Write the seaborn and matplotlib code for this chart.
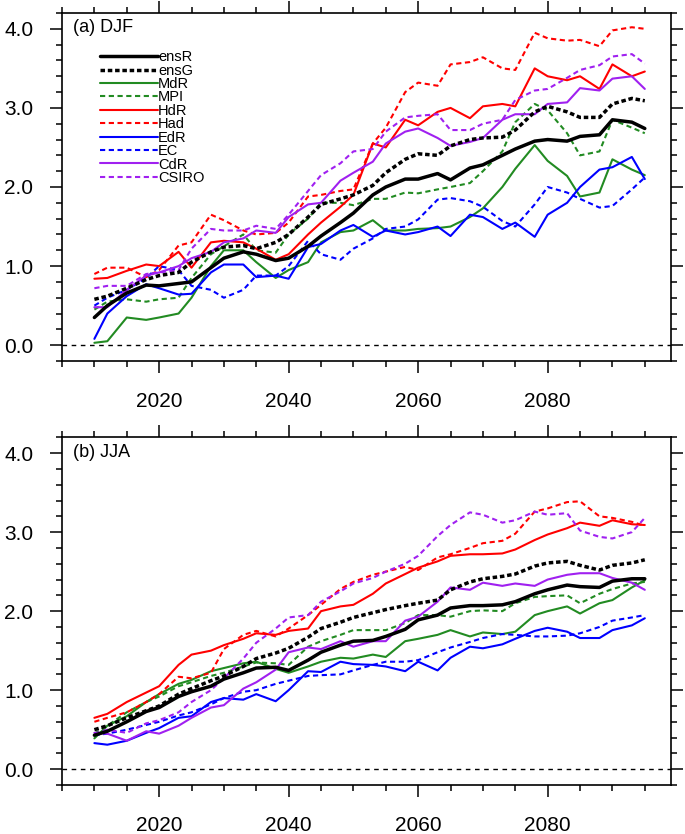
import pandas as pd
import seaborn as sns
import matplotlib.pyplot as plt
from matplotlib.ticker import MultipleLocator, FormatStrFormatter

years = [2010, 2012, 2015, 2018, 2020, 2023, 2025, 2028, 2030, 2033, 2035, 2038,
         2040, 2043, 2045, 2048, 2050, 2053, 2055, 2058, 2060, 2063, 2065, 2068,
         2070, 2073, 2075, 2078, 2080, 2083, 2085, 2088, 2090, 2093, 2095]
models = ["ensR", "ensG", "MdR", "MPI", "HdR", "Had", "EdR", "EC", "CdR", "CSIRO"]

# (a) DJF
djf_ensR = [0.35, 0.50, 0.66, 0.76, 0.75, 0.78, 0.80, 0.98, 1.10, 1.18, 1.15, 1.07,
            1.10, 1.25, 1.38, 1.55, 1.67, 1.90, 2.00, 2.10, 2.10, 2.17, 2.09, 2.24,
            2.28, 2.40, 2.48, 2.58, 2.60, 2.58, 2.64, 2.66, 2.85, 2.82, 2.74]
djf_ensG = [0.58, 0.62, 0.72, 0.83, 0.88, 0.92, 1.05, 1.18, 1.24, 1.26, 1.22, 1.30,
            1.40, 1.62, 1.78, 1.85, 1.90, 2.02, 2.18, 2.35, 2.42, 2.40, 2.52, 2.60,
            2.62, 2.63, 2.72, 2.95, 3.02, 2.95, 2.88, 2.88, 3.05, 3.12, 3.09]
djf_MdR = [0.03, 0.05, 0.35, 0.32, 0.35, 0.40, 0.60, 1.00, 1.20, 1.20, 1.05, 0.85,
           0.95, 1.05, 1.30, 1.43, 1.45, 1.58, 1.45, 1.45, 1.47, 1.48, 1.50, 1.62,
           1.73, 2.00, 2.23, 2.53, 2.33, 2.14, 1.88, 1.93, 2.35, 2.22, 2.15]
djf_MPI = [0.45, 0.55, 0.58, 0.55, 0.58, 0.60, 0.85, 1.15, 1.25, 1.40, 1.20, 1.17,
           1.40, 1.60, 1.80, 1.80, 1.77, 1.85, 1.85, 1.93, 1.92, 1.97, 2.00, 2.05,
           2.20, 2.45, 2.82, 3.05, 2.97, 2.68, 2.40, 2.45, 2.85, 2.75, 2.68]
djf_HdR = [0.84, 0.85, 0.94, 1.02, 1.00, 1.18, 0.98, 1.30, 1.32, 1.30, 1.22, 1.08,
           1.15, 1.40, 1.55, 1.75, 1.90, 2.55, 2.50, 2.85, 2.78, 2.95, 3.00, 2.87,
           3.02, 3.05, 3.02, 3.50, 3.40, 3.35, 3.40, 3.24, 3.55, 3.40, 3.46]
djf_Had = [0.90, 0.98, 0.98, 0.86, 0.95, 1.26, 1.30, 1.65, 1.58, 1.45, 1.40, 1.42,
           1.55, 1.88, 1.90, 1.95, 1.97, 2.55, 2.75, 3.20, 3.32, 3.28, 3.55, 3.58,
           3.64, 3.50, 3.48, 3.95, 3.88, 3.85, 3.86, 3.78, 3.98, 4.02, 4.00]
djf_EdR = [0.08, 0.40, 0.62, 0.77, 0.72, 0.64, 0.65, 0.92, 1.02, 1.02, 0.86, 0.88,
           0.84, 1.24, 1.28, 1.45, 1.52, 1.37, 1.45, 1.40, 1.43, 1.50, 1.38, 1.65,
           1.62, 1.47, 1.55, 1.37, 1.65, 1.80, 2.00, 2.22, 2.25, 2.38, 2.10]
djf_EC = [0.50, 0.60, 0.70, 0.85, 1.00, 0.95, 0.75, 0.70, 0.60, 0.70, 0.88, 0.88,
          1.00, 1.32, 1.15, 1.08, 1.22, 1.35, 1.47, 1.50, 1.59, 1.84, 1.86, 1.82,
          1.75, 1.57, 1.50, 1.78, 2.00, 1.93, 1.85, 1.74, 1.76, 1.97, 2.12]
djf_CdR = [0.48, 0.48, 0.70, 0.88, 0.92, 1.00, 1.10, 1.18, 1.30, 1.35, 1.45, 1.42,
           1.62, 1.78, 1.80, 2.08, 2.18, 2.32, 2.55, 2.70, 2.74, 2.62, 2.52, 2.57,
           2.62, 2.85, 2.92, 2.92, 3.05, 3.07, 3.25, 3.22, 3.37, 3.40, 3.24]
djf_CSIRO = [0.72, 0.75, 0.75, 0.90, 0.92, 0.95, 1.22, 1.47, 1.45, 1.45, 1.51, 1.47,
             1.65, 1.95, 2.15, 2.30, 2.45, 2.48, 2.70, 2.88, 2.90, 2.92, 2.72, 2.72,
             2.80, 2.85, 3.10, 3.22, 3.24, 3.38, 3.48, 3.54, 3.65, 3.68, 3.56]

# (b) JJA
jja_ensR = [0.43, 0.48, 0.60, 0.73, 0.78, 0.92, 0.98, 1.05, 1.14, 1.22, 1.28, 1.29,
            1.25, 1.38, 1.48, 1.57, 1.62, 1.63, 1.68, 1.77, 1.89, 1.95, 2.04, 2.07,
            2.07, 2.08, 2.12, 2.22, 2.27, 2.33, 2.31, 2.30, 2.38, 2.41, 2.41]
jja_ensG = [0.50, 0.55, 0.65, 0.74, 0.80, 0.95, 1.02, 1.12, 1.18, 1.30, 1.40, 1.47,
            1.53, 1.67, 1.78, 1.86, 1.92, 1.98, 2.02, 2.07, 2.10, 2.14, 2.27, 2.37,
            2.41, 2.44, 2.47, 2.57, 2.61, 2.63, 2.58, 2.52, 2.58, 2.61, 2.65]
jja_MdR = [0.39, 0.55, 0.67, 0.85, 0.95, 1.08, 1.13, 1.24, 1.28, 1.34, 1.36, 1.27,
           1.22, 1.30, 1.36, 1.41, 1.40, 1.45, 1.42, 1.62, 1.65, 1.70, 1.76, 1.68,
           1.73, 1.71, 1.74, 1.95, 2.00, 2.06, 1.97, 2.10, 2.14, 2.30, 2.39]
jja_MPI = [0.45, 0.55, 0.72, 0.85, 0.92, 1.05, 1.10, 1.18, 1.22, 1.30, 1.35, 1.34,
           1.32, 1.55, 1.62, 1.70, 1.76, 1.76, 1.76, 1.85, 1.95, 1.95, 1.93, 2.00,
           2.01, 2.00, 2.10, 2.18, 2.19, 2.20, 2.10, 2.22, 2.28, 2.35, 2.37]
jja_HdR = [0.65, 0.70, 0.85, 0.97, 1.05, 1.32, 1.45, 1.50, 1.57, 1.65, 1.72, 1.70,
           1.75, 1.78, 2.00, 2.06, 2.08, 2.22, 2.35, 2.47, 2.55, 2.63, 2.70, 2.72,
           2.72, 2.73, 2.78, 2.90, 2.97, 3.05, 3.12, 3.08, 3.15, 3.10, 3.09]
jja_Had = [0.60, 0.65, 0.72, 0.85, 0.95, 1.17, 1.15, 1.22, 1.52, 1.70, 1.75, 1.68,
           1.78, 1.95, 2.08, 2.28, 2.37, 2.46, 2.50, 2.56, 2.52, 2.68, 2.72, 2.80,
           2.86, 2.89, 2.98, 3.26, 3.30, 3.38, 3.39, 3.20, 3.18, 3.13, 3.08]
jja_EdR = [0.33, 0.31, 0.36, 0.46, 0.52, 0.65, 0.67, 0.85, 0.90, 0.88, 0.95, 0.86,
           1.00, 1.24, 1.23, 1.36, 1.33, 1.32, 1.30, 1.24, 1.36, 1.25, 1.41, 1.55,
           1.53, 1.58, 1.65, 1.75, 1.79, 1.74, 1.66, 1.66, 1.76, 1.82, 1.91]
jja_EC = [0.43, 0.45, 0.50, 0.56, 0.60, 0.68, 0.72, 0.82, 0.90, 0.98, 1.00, 1.08,
          1.12, 1.18, 1.19, 1.20, 1.25, 1.32, 1.36, 1.36, 1.38, 1.48, 1.54, 1.61,
          1.66, 1.71, 1.70, 1.68, 1.68, 1.69, 1.72, 1.80, 1.88, 1.92, 1.95]
jja_CdR = [0.46, 0.45, 0.36, 0.48, 0.45, 0.55, 0.65, 0.78, 0.81, 1.02, 1.10, 1.26,
           1.48, 1.54, 1.52, 1.62, 1.55, 1.62, 1.62, 1.88, 1.93, 2.12, 2.30, 2.27,
           2.36, 2.32, 2.35, 2.32, 2.40, 2.46, 2.48, 2.48, 2.42, 2.36, 2.27]
jja_CSIRO = [0.45, 0.50, 0.46, 0.58, 0.62, 0.72, 0.85, 1.00, 1.15, 1.40, 1.60, 1.78,
             1.92, 1.95, 2.12, 2.25, 2.35, 2.42, 2.50, 2.60, 2.70, 2.95, 3.09, 3.25,
             3.22, 3.12, 3.15, 3.26, 3.22, 3.24, 3.02, 2.94, 2.92, 3.00, 3.18]

djf = pd.DataFrame({"year": years, "ensR": djf_ensR, "ensG": djf_ensG,
                    "MdR": djf_MdR, "MPI": djf_MPI, "HdR": djf_HdR, "Had": djf_Had,
                    "EdR": djf_EdR, "EC": djf_EC, "CdR": djf_CdR, "CSIRO": djf_CSIRO})
jja = pd.DataFrame({"year": years, "ensR": jja_ensR, "ensG": jja_ensG,
                    "MdR": jja_MdR, "MPI": jja_MPI, "HdR": jja_HdR, "Had": jja_Had,
                    "EdR": jja_EdR, "EC": jja_EC, "CdR": jja_CdR, "CSIRO": jja_CSIRO})

green = "#228B22"
purple = "#A020F0"
thin_dash = (0, (2.5, 1.7))
styles = {
    "ensR": ("black", "-", 2.5),
    "ensG": ("black", (0, (1.3, 0.8)), 2.5),
    "MdR": (green, "-", 1.5),
    "MPI": (green, thin_dash, 1.5),
    "HdR": ("red", "-", 1.5),
    "Had": ("red", thin_dash, 1.5),
    "EdR": ("blue", "-", 1.5),
    "EC": ("blue", thin_dash, 1.5),
    "CdR": (purple, "-", 1.5),
    "CSIRO": (purple, thin_dash, 1.5),
}

sns.set_theme(style="ticks")
plt.rcParams["font.family"] = ["Liberation Sans", "DejaVu Sans"]
plt.rcParams["text.color"] = "black"

fig = plt.figure(figsize=(6.85, 8.34), dpi=100)
W = (670.7 - 62) / 685
ax_a = fig.add_axes([62 / 685, 1 - 361 / 834, W, 348 / 834])
ax_b = fig.add_axes([62 / 685, 1 - 785 / 834, W, 347.7 / 834])

for ax, df, tag in [(ax_a, djf, "(a) DJF"), (ax_b, jja, "(b) JJA")]:
    ax.axhline(0, color="black", lw=1.0, ls=(0, (3.3, 3.3)), zorder=1)
    # draw every model series
    for m in models:
        c, ls, lw = styles[m]
        sns.lineplot(data=df, x="year", y=m, ax=ax, color=c, linestyle=ls,
                     linewidth=lw, label=m, zorder=3 if m.startswith("ens") else 2)

    ax.set_xlim(2005, 2099)
    ax.set_ylim(-0.2, 4.2)
    ax.xaxis.set_major_locator(MultipleLocator(20))
    ax.xaxis.set_minor_locator(MultipleLocator(5))
    ax.yaxis.set_major_locator(MultipleLocator(1))
    ax.yaxis.set_minor_locator(MultipleLocator(0.2))
    ax.yaxis.set_major_formatter(FormatStrFormatter("%.1f"))
    ax.set_xlabel("")
    ax.set_ylabel("")
    ax.tick_params(which="both", direction="out", top=True, right=True,
                   color="black", width=1.1, labelsize=15, labelcolor="black")
    ax.tick_params(which="major", length=8.6)
    ax.tick_params(which="minor", length=4.3)
    ax.tick_params(axis="x", which="major", pad=14)
    ax.tick_params(axis="y", which="major", pad=12)
    for s in ax.spines.values():
        s.set_linewidth(1.2)
        s.set_color("black")
    ax.text(0.018, 0.982, tag, transform=ax.transAxes, ha="left", va="top",
            fontsize=13, color="black")

leg_b = ax_b.get_legend()
if leg_b is not None:
    leg_b.remove()

ax_a.legend(loc="upper left", bbox_to_anchor=(0.062, 0.893), frameon=False,
            fontsize=10.5, handlelength=4.0, handletextpad=0.0, labelspacing=-0.04,
            borderpad=0, borderaxespad=0, labelcolor="black")

fig.savefig("out.png", dpi=100)
